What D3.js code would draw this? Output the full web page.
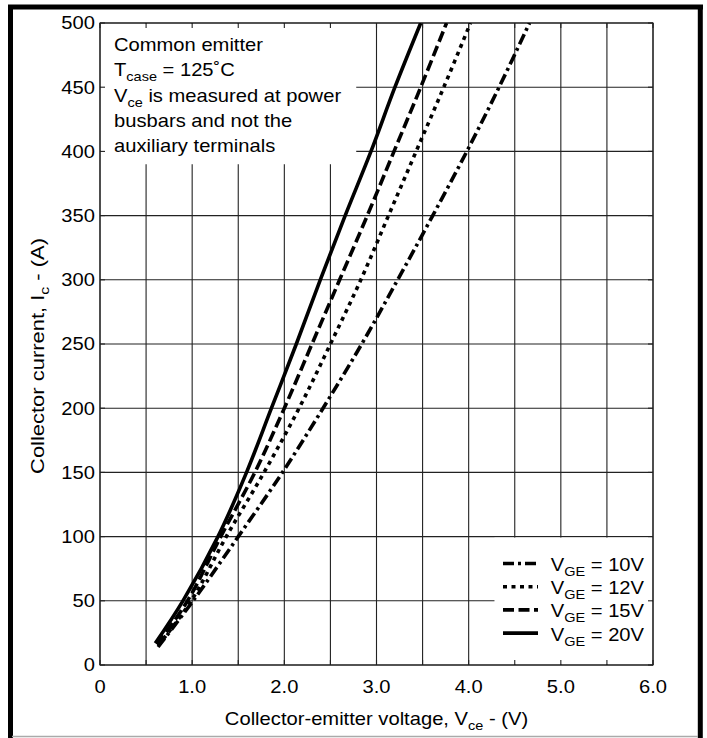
<!DOCTYPE html>
<html>
<head>
<meta charset="utf-8">
<script src="https://cdn.jsdelivr.net/npm/d3@7"></script>
<style>
  body { margin: 0; background: #fff; }
  svg { display: block; font-family: "Liberation Sans", Arial, sans-serif; }
</style>
</head>
<body>
<svg id="chart" width="707" height="738"></svg>
<script>
// Values (Vce in V, Ic in A)
const vge20 = [[0.60, 17], [0.90, 50], [1.28, 100], [1.59, 150], [1.86, 200], [2.13, 250], [2.39, 300], [2.66, 350], [2.94, 400], [3.20, 450], [3.48, 500]];
const vge15 = [[0.62, 16], [0.95, 50], [1.31, 100], [1.68, 150], [2.00, 200], [2.30, 250], [2.60, 300], [2.90, 350], [3.19, 400], [3.48, 450], [3.76, 500]];
const vge12 = [[0.63, 15], [0.99, 50], [1.37, 100], [1.78, 150], [2.16, 200], [2.50, 250], [2.83, 300], [3.13, 350], [3.43, 400], [3.73, 450], [4.02, 500]];
const vge10 = [[0.63, 14], [1.01, 50], [1.50, 100], [1.98, 150], [2.42, 200], [2.84, 250], [3.23, 300], [3.61, 350], [3.98, 400], [4.33, 450], [4.66, 500]];

const seriesNames = ["10V", "12V", "15V", "20V"];
const seriesData = [vge10, vge12, vge15, vge20];
const seriesDash = ["11,4,3,4", "4,4.5", "11,4.5", null];

const xTickValues = [0, 1, 2, 3, 4, 5, 6];
const xTickLabels = ["0", "1.0", "2.0", "3.0", "4.0", "5.0", "6.0"];
const yTickValues = [0, 50, 100, 150, 200, 250, 300, 350, 400, 450, 500];

const noteLines = ["Common emitter", "T|case| = 125˚C", "V|ce| is measured at power", "busbars and not the", "auxiliary terminals"];

const svg = d3.select("#chart");
const pLeft = 100, pRight = 653, pTop = 23, pBottom = 665;
const stretch = 1.12; // source artwork is a little wider than tall

const x = d3.scaleLinear().domain([0, 6]).range([pLeft, pRight]);
const y = d3.scaleLinear().domain([0, 500]).range([pBottom, pTop]);

// outer frame
svg.append("line").attr("x1", 10.5).attr("x2", 10.5).attr("y1", 5).attr("y2", 738)
  .attr("stroke", "#000").attr("stroke-width", 5);
svg.append("line").attr("x1", 8).attr("x2", 703).attr("y1", 7).attr("y2", 7)
  .attr("stroke", "#000").attr("stroke-width", 5);
svg.append("line").attr("x1", 700.3).attr("x2", 700.3).attr("y1", 5).attr("y2", 738)
  .attr("stroke", "#000").attr("stroke-width", 5);
svg.append("line").attr("x1", 12).attr("x2", 698).attr("y1", 736.5).attr("y2", 736.5)
  .attr("stroke", "#aaa").attr("stroke-width", 1.5);

// grid every 0.5 V and 50 A
const gx = d3.range(0, 6.01, 0.5);
const grid = svg.append("g").attr("stroke", "#222").attr("stroke-width", 1.1);
grid.selectAll(".gv").data(gx).enter().append("line")
  .attr("x1", d => x(d)).attr("x2", d => x(d)).attr("y1", pTop).attr("y2", pBottom);
grid.selectAll(".gh").data(yTickValues).enter().append("line")
  .attr("x1", pLeft).attr("x2", pRight).attr("y1", d => y(d)).attr("y2", d => y(d));

// white boxes behind the note and the legend
svg.append("rect").attr("x", pLeft + 1).attr("y", pTop + 1)
  .attr("width", x(2.78) - pLeft - 1).attr("height", y(390) - pTop - 1).attr("fill", "#fff");
svg.append("rect").attr("x", x(4.28)).attr("y", y(100) + 1)
  .attr("width", pRight - x(4.28) - 1).attr("height", pBottom - y(100) - 2).attr("fill", "#fff");

// inner ticks on all four sides
const tl = 5;
const ticks = svg.append("g").attr("stroke", "#222").attr("stroke-width", 1.1);
gx.forEach(v => {
  ticks.append("line").attr("x1", x(v)).attr("x2", x(v)).attr("y1", pTop).attr("y2", pTop + tl);
  ticks.append("line").attr("x1", x(v)).attr("x2", x(v)).attr("y1", pBottom).attr("y2", pBottom - tl);
});
yTickValues.forEach(v => {
  ticks.append("line").attr("x1", pLeft).attr("x2", pLeft + tl).attr("y1", y(v)).attr("y2", y(v));
  ticks.append("line").attr("x1", pRight).attr("x2", pRight - tl).attr("y1", y(v)).attr("y2", y(v));
});
svg.append("rect").attr("x", pLeft).attr("y", pTop).attr("width", pRight - pLeft).attr("height", pBottom - pTop)
  .attr("fill", "none").attr("stroke", "#222").attr("stroke-width", 1.1);

// tick labels
svg.selectAll(".xl").data(xTickValues).enter().append("text")
  .attr("transform", d => `translate(${x(d)},693) scale(${stretch},1)`)
  .attr("text-anchor", "middle").attr("font-size", 18)
  .text((d, i) => xTickLabels[i]);
svg.selectAll(".yl").data(yTickValues).enter().append("text")
  .attr("transform", d => `translate(95,${y(d) + 6.3}) scale(${stretch},1)`)
  .attr("text-anchor", "end").attr("font-size", 18)
  .text(d => d);

// helper for text with subscripts written as a|sub|b
function richText(sel, str, size) {
  str.split("|").forEach((part, i) => {
    const sub = i % 2 === 1;
    sel.append("tspan")
      .attr("font-size", sub ? size * 0.72 : size)
      .attr("dy", sub ? 5 : (i > 0 ? -5 : 0))
      .text(part);
  });
  return sel;
}

// axis titles
richText(svg.append("text")
  .attr("transform", `translate(${(pLeft + pRight) / 2},725) scale(${stretch},1)`)
  .attr("text-anchor", "middle"), "Collector-emitter voltage, V|ce| - (V)", 18);
richText(svg.append("text")
  .attr("transform", `translate(44,356) rotate(-90) scale(1.22,1)`)
  .attr("text-anchor", "middle"), "Collector current, I|c| - (A)", 18);

// note in the top left corner
noteLines.forEach((line, i) => {
  richText(svg.append("text")
    .attr("transform", `translate(114,${51 + i * 25.3}) scale(${stretch},1)`), line, 18);
});

// curves
const clip = svg.append("clipPath").attr("id", "plotClip");
clip.append("rect").attr("x", pLeft).attr("y", pTop).attr("width", pRight - pLeft).attr("height", pBottom - pTop);

const line = d3.line()
  .x(d => x(d[0]))
  .y(d => y(d[1]))
  .curve(d3.curveCatmullRom);

svg.append("g").attr("clip-path", "url(#plotClip)")
  .selectAll("path").data(seriesData).enter().append("path")
  .attr("d", line)
  .attr("fill", "none")
  .attr("stroke", "#000")
  .attr("stroke-width", 3.6)
  .attr("stroke-dasharray", (d, i) => seriesDash[i]);

// legend
const legend = svg.append("g");
seriesNames.forEach((name, i) => {
  const by = 571 + i * 23.2;
  legend.append("line")
    .attr("x1", 503).attr("x2", 538).attr("y1", by - 7.5).attr("y2", by - 7.5)
    .attr("stroke", "#000").attr("stroke-width", 3.6)
    .attr("stroke-dasharray", seriesDash[i]);
  richText(legend.append("text")
    .attr("transform", `translate(644,${by}) scale(${stretch},1)`)
    .attr("text-anchor", "end"), "V|GE| = " + name, 18);
});
</script>
</body>
</html>
